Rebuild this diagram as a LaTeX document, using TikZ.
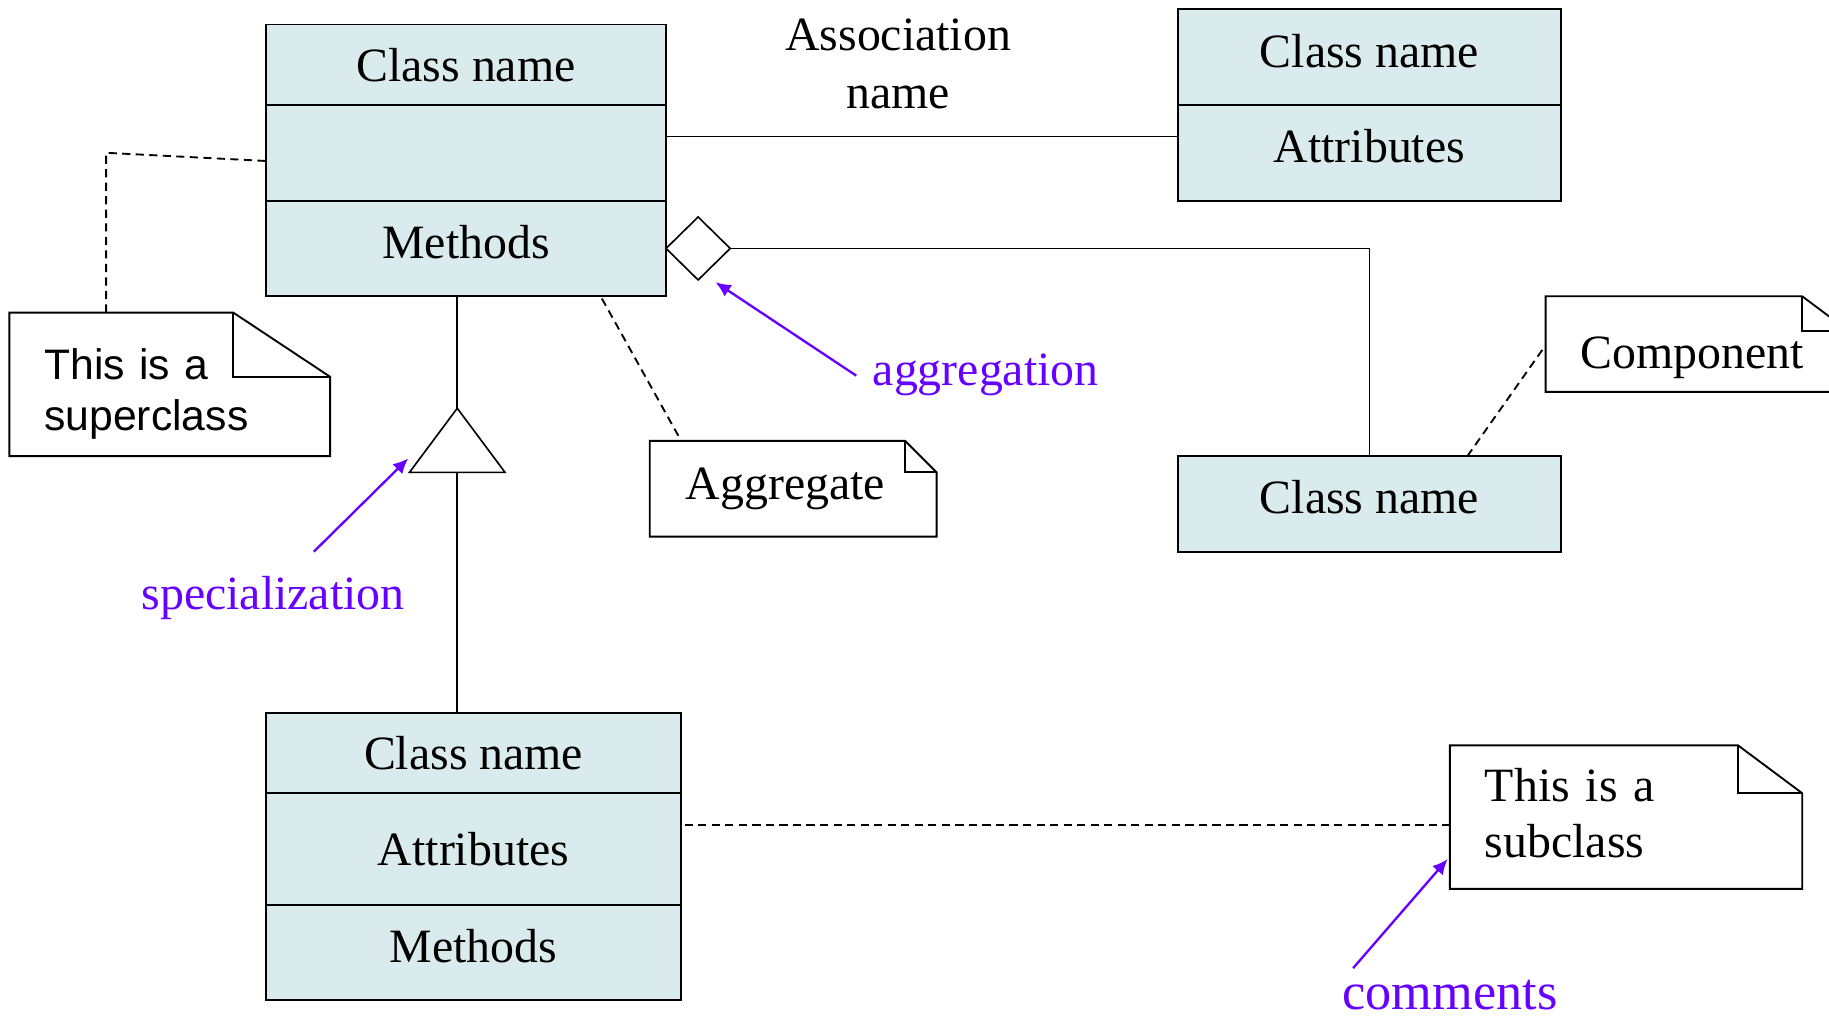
\documentclass[tikz,border=0pt]{standalone}
\usepackage{fontspec}
\setmainfont{Liberation Serif}
\newfontfamily\notesans{Liberation Sans}
\usetikzlibrary{calc,shapes.geometric,arrows.meta}
\definecolor{clsfill}{RGB}{218,235,238}
\definecolor{hint}{RGB}{102,0,255}

\tikzset{
  compart/.style={draw, fill=clsfill, line width=0.8pt, anchor=north west,
    inner sep=0pt, outer sep=0pt, font=\fontsize{20.5}{25}\selectfont},
  raised/.style={text height=14pt, text depth=5.5pt},
  notebody/.style={anchor=north west, inner ysep=0pt, inner xsep=15pt, outer sep=0pt,
    align=left, font=\fontsize{20.5}{24}\selectfont},
  link/.style={line width=0.7pt},
  dashlink/.style={line width=0.8pt, dash pattern=on 3.5pt off 2.3pt},
  hintarrow/.style={draw=hint, line width=1pt, -{Latex[length=6.5pt,width=6pt]}},
  hinttext/.style={text=hint, font=\fontsize{20.5}{25}\selectfont},
}

% note outline with a folded top-right corner: node name, fold width, fold height
\newcommand\drawnote[3]{%
  \draw[line width=0.8pt] (#1.north west) -- ($(#1.north east)+(-#2,0)$)
    -- ($(#1.north east)+(0,#3)$) -- (#1.south east) -- (#1.south west) -- cycle;
  \draw[line width=0.8pt] ($(#1.north east)+(-#2,0)$) |- ($(#1.north east)+(0,#3)$);}

\begin{document}
\begin{tikzpicture}[x=0.5pt,y=-0.5pt]
\useasboundingbox (0,0) rectangle (1568,872);
\clip (0,0) rectangle (1568,872);

% superclass
\node[compart, minimum width=171.5pt, minimum height=34.5pt] (a1) at (228,21) {Class name};
\node[compart, minimum width=171.5pt, minimum height=41pt] (a2) at (a1.south west) {};
\node[compart, raised, minimum width=171.5pt, minimum height=41pt] (a3) at (a2.south west) {Methods};

% associated class
\node[compart, raised, minimum width=164pt, minimum height=41pt] (b1) at (1010,8) {Class name};
\node[compart, raised, minimum width=164pt, minimum height=41pt] (b2) at (b1.south west) {Attributes};

% component class
\node[compart, raised, minimum width=164pt, minimum height=41pt] (c1) at (1010,391) {Class name};

% subclass
\node[compart, minimum width=178pt, minimum height=34.5pt] (d1) at (228,611) {Class name};
\node[compart, minimum width=178pt, minimum height=48pt] (d2) at (d1.south west) {Attributes};
\node[compart, raised, minimum width=178pt, minimum height=40.5pt] (d3) at (d2.south west) {Methods};

% association
\node[align=center, font=\fontsize{20.5}{25}\selectfont] (assoc) at (770,55) {Association\\name};
\draw[link] ($(a2.east)+(0,-14)$) coordinate (asl) -- (asl -| b2.west);

% aggregation
\node[draw, diamond, shape aspect=1, line width=0.7pt, inner sep=0pt, outer sep=0pt,
  minimum width=27.5pt, minimum height=27pt, anchor=west] (dia) at (a3.east) {};
\draw[link] (dia.east) -| (c1.north);

% generalization
\coordinate (apex) at (392,350);
\draw[link] (apex |- a3.south) -- (apex);
\draw[link] (apex) -- ++(41,55) -- ++(-82,0) -- cycle;
\draw[link] ($(apex)+(0,55)$) -- (apex |- d1.north);

% notes
\node[notebody, font=\notesans\fontsize{18.3}{22}\selectfont, text width=107.5pt,
  text height=21.4pt, minimum height=61.5pt] (sup) at (8,268) {This is a\\superclass};
\drawnote{sup}{83}{55}
\node[notebody, inner xsep=15.5pt, text width=92pt, minimum height=41pt] (agg) at (557,378) {Aggregate};
\drawnote{agg}{27}{27}
\node[notebody, text width=100pt, text height=25pt, text depth=4.5pt,
  minimum height=41pt] (comp) at (1325,254) {Component};
\drawnote{comp}{40}{30}
\node[notebody, text width=121pt, text height=11pt, minimum height=61.5pt] (sub) at (1243,639) {This is a\\subclass};
\drawnote{sub}{55}{41}

% note links
\draw[dashlink] ($(sup.north west)+(83,0)$) -- ++(0,-137) -- ($(a2.west)+(0,7)$);
\draw[dashlink] ($(a3.south west)+(288,2)$) -- ($(agg.north west)+(27,0)$);
\draw[dashlink] ($(c1.north west)+(248,0)$) -- ($(comp.west)+(0,1)$);
\draw[dashlink] ($(d2.north east)+(3,27)$) coordinate (dl) -- (dl -| sub.west);

% explanations
\node[hinttext] (spec) at (234,513) {specialization};
\coordinate (specfrom) at (269,473);
\draw[hintarrow] (specfrom) -- ($(apex)+(-42,43)$);

\node[hinttext] (aggl) at (845,321) {aggregation};
\coordinate (aggfrom) at (734,322);
\draw[hintarrow] (aggfrom) -- ($(dia.south)+(15,2)$);

\node[hinttext, inner sep=0pt, font=\fontsize{22.4}{26}\selectfont] (comm) at (1243,853) {comments};
\coordinate (commfrom) at (1160,830);
\draw[hintarrow] (commfrom) -- ($(sub.west)+(-2,36)$);
\end{tikzpicture}
\end{document}
